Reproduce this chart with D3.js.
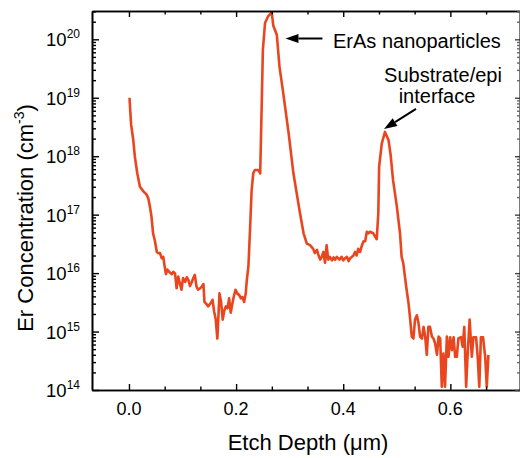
<!DOCTYPE html>
<html><head><meta charset="utf-8">
<script src="https://cdn.jsdelivr.net/npm/d3@7"></script>
<style>
body{margin:0;background:#fff}
svg{display:block}
text{font-family:"Liberation Sans",Arial,Helvetica,sans-serif;fill:#000}
</style>
</head><body>
<svg id="chart" width="520" height="458"></svg>
<script>
// ---- data ----
const depth = [0.001,0.004,0.008,0.011,0.0155,0.0205,0.027,0.033,0.036,0.039,0.042,0.045,0.0486,0.052,0.055,0.058,0.061,0.064,0.067,0.069,0.0715,0.075,0.080,0.083,0.086,0.089,0.092,0.095,0.098,0.101,0.105,0.108,0.111,0.114,0.117,0.120,0.123,0.126,0.129,0.133,0.136,0.139,0.141,0.144,0.148,0.153,0.156,0.159,0.162,0.165,0.169,0.172,0.175,0.178,0.181,0.184,0.187,0.190,0.193,0.196,0.199,0.202,0.206,0.209,0.212,0.215,0.218,0.220,0.223,0.226,0.229,0.232,0.235,0.2415,0.245,0.248,0.250,0.254,0.260,0.2665,0.2695,0.276,0.281,0.288,0.298,0.307,0.319,0.326,0.332,0.338,0.344,0.347,0.351,0.354,0.357,0.360,0.363,0.366,0.369,0.372,0.375,0.379,0.382,0.385,0.388,0.393,0.397,0.400,0.4035,0.407,0.410,0.413,0.419,0.422,0.425,0.428,0.4315,0.435,0.438,0.441,0.444,0.447,0.450,0.456,0.4595,0.4625,0.4655,0.467,0.472,0.478,0.4845,0.4885,0.493,0.500,0.506,0.509,0.512,0.5175,0.522,0.525,0.528,0.531,0.534,0.5375,0.5405,0.5435,0.547,0.550,0.553,0.556,0.559,0.562,0.5655,0.5685,0.5715,0.575,0.578,0.581,0.584,0.587,0.590,0.5935,0.5965,0.5997,0.603,0.606,0.609,0.612,0.615,0.620,0.623,0.626,0.6295,0.632,0.636,0.640,0.643,0.648,0.651,0.654,0.657,0.661,0.665,0.668,0.671];
const conc = [1.0e19,3.5e18,1.9e18,9.8e17,5.1e17,3.0e17,2.5e17,2.2e17,1.9e17,1.4e17,9.3e16,4.8e16,3.5e16,2.3e16,2.2e16,2.2e16,1.8e16,1.9e16,1.25e16,9.6e15,1.15e16,1.05e16,9.6e15,1.05e16,9.9e15,5.5e15,8.7e15,6.7e15,5.2e15,8.2e15,7.1e15,8.5e15,7.6e15,6.0e15,6.9e15,8.2e15,9.3e15,5.9e15,5.2e15,5.5e15,5.9e15,6.5e15,3.2e15,3.0e15,2.7e15,3.1e15,3.5e15,2.2e15,1.6e15,7.6e14,4.5e15,3.2e15,1.6e15,2.3e15,2.7e15,2.5e15,3.7e15,2.1e15,3.0e15,4.1e15,5.2e15,4.5e15,4.2e15,3.7e15,3.9e15,3.2e15,4.5e15,7.6e15,1.3e16,5.5e16,2.6e17,5.1e17,5.8e17,5.8e17,5.1e17,9.1e18,6.6e19,1.9e20,2.5e20,2.9e20,1.7e20,1.2e20,3.4e19,1.2e19,2.5e18,5.1e17,1.1e17,4.8e16,3.2e16,3.0e16,2.6e16,2.2e16,2.5e16,2.0e16,1.7e16,1.9e16,2.3e16,1.5e16,3.0e16,1.7e16,1.9e16,1.65e16,1.85e16,1.7e16,1.9e16,1.7e16,1.9e16,1.65e16,1.8e16,1.9e16,1.6e16,1.8e16,2.0e16,2.3e16,2.0e16,2.6e16,2.3e16,3.0e16,3.5e16,3.5e16,5.1e16,4.8e16,5.1e16,4.8e16,4.2e16,3.8e16,1.05e17,6.6e17,1.66e18,2.6e18,1.9e18,1.05e18,3.9e17,1.4e17,4.8e16,1.9e16,1.5e16,5.9e15,3.0e15,1.6e15,8.2e14,7.6e14,1.6e15,1.9e15,1.4e15,8.2e14,7.6e14,1.2e15,8.2e14,4.0e14,1.2e15,1.2e15,8.2e14,7.6e14,6.3e14,4.0e14,8.2e14,7.6e14,1.14e14,4.2e14,1.14e14,8.2e14,3.7e14,8.0e14,4.8e14,8.0e14,3.7e14,3.7e14,7.6e14,8.0e14,5.5e14,1.2e15,1.14e14,3.7e14,1.6e15,3.7e14,8.0e14,8.0e14,3.7e14,1.14e14,8.0e14,8.0e14,3.7e14,1.14e14,4.0e14];

const xTickValues = [0.0, 0.2, 0.4, 0.6];
const xTickLabels = ["0.0", "0.2", "0.4", "0.6"];
const xMinorTicks = [0.0667, 0.1333, 0.2667, 0.3333, 0.4667, 0.5333, 0.6667];
const yExponents = [14, 15, 16, 17, 18, 19, 20];
const xTitle = "Etch Depth (\u03bcm)";
const yTitleMain = "Er Concentration (cm";
const yTitleSup = "-3";
const annotationLabels = [["ErAs nanoparticles"], ["Substrate/epi", "interface"]];
const annotationPoints = [[0.266, 2.9e20], [0.478, 2.6e18]];

// ---- layout ----
const L = 92, R = 520, T = 11, B = 390;
const lineColor = "#e9461f";

const svg = d3.select("#chart");
const x = d3.scaleLinear().domain([-0.069, 0.730]).range([L, R]);
const y = d3.scaleLog().domain([1e14, 3.05e20]).range([B, T]);

const yMinor = [];
yExponents.forEach(e => { for (let m = 2; m <= 9; m++) { const v = m * Math.pow(10, e); if (v <= y.domain()[1]) yMinor.push(v); } });
const yMajor = yExponents.map(e => Math.pow(10, e));

svg.append("clipPath").attr("id", "clip").append("rect")
  .attr("x", L).attr("y", T).attr("width", R - L).attr("height", B - T);

const pts = depth.map((d, i) => [d, conc[i]]);
svg.append("path")
  .datum(pts)
  .attr("clip-path", "url(#clip)")
  .attr("fill", "none")
  .attr("stroke", lineColor)
  .attr("stroke-width", 2.6)
  .attr("stroke-linejoin", "round")
  .attr("d", d3.line().x(d => x(d[0])).y(d => y(d[1])));

function styleAxis(g) {
  g.select(".domain").attr("stroke", "#000").attr("stroke-width", 1.6);
  g.selectAll(".tick line").attr("stroke", "#000").attr("stroke-width", 1.4);
  g.selectAll("text").remove();
}
svg.append("g").attr("transform", `translate(0,${B})`)
  .call(d3.axisBottom(x).tickValues(xTickValues).tickSizeInner(-6).tickSizeOuter(0)).call(styleAxis);
svg.append("g").attr("transform", `translate(0,${B})`)
  .call(d3.axisBottom(x).tickValues(xMinorTicks).tickSizeInner(-3.5).tickSizeOuter(0)).call(styleAxis);
svg.append("g").attr("transform", `translate(0,${T})`)
  .call(d3.axisTop(x).tickValues(xTickValues).tickSizeInner(-6).tickSizeOuter(0)).call(styleAxis);
svg.append("g").attr("transform", `translate(0,${T})`)
  .call(d3.axisTop(x).tickValues(xMinorTicks).tickSizeInner(-3.5).tickSizeOuter(0)).call(styleAxis);
svg.append("g").attr("transform", `translate(${L},0)`)
  .call(d3.axisLeft(y).tickValues(yMajor).tickSizeInner(-7).tickSizeOuter(0)).call(styleAxis);
svg.append("g").attr("transform", `translate(${L},0)`)
  .call(d3.axisLeft(y).tickValues(yMinor).tickSizeInner(-4).tickSizeOuter(0)).call(styleAxis);
svg.append("g").attr("transform", `translate(${R},0)`)
  .call(d3.axisRight(y).tickValues(yMajor).tickSizeInner(-5).tickSizeOuter(0)).call(styleAxis)
  .selectAll("line").attr("stroke", "#444");
svg.append("g").attr("transform", `translate(${R},0)`)
  .call(d3.axisRight(y).tickValues(yMinor).tickSizeInner(-3).tickSizeOuter(0)).call(styleAxis)
  .selectAll("line").attr("stroke", "#666");

svg.append("g").selectAll("text").data(xTickValues).join("text")
  .attr("x", d => x(d)).attr("y", B + 25)
  .attr("text-anchor", "middle").attr("font-size", 18)
  .text((d, i) => xTickLabels[i]);

const yl = svg.append("g").selectAll("text").data(yExponents).join("text")
  .attr("x", 80).attr("y", d => y(Math.pow(10, d)) + 7)
  .attr("text-anchor", "end").attr("font-size", 18.5);
yl.append("tspan").text("10");
yl.append("tspan").attr("font-size", 12).attr("dy", -8).text(d => d);

svg.append("text").attr("x", 308).attr("y", 450).attr("text-anchor", "middle")
  .attr("font-size", 22).text(xTitle);
const yt = svg.append("text").attr("transform", "translate(33,218) rotate(-90)")
  .attr("text-anchor", "middle").attr("font-size", 22);
yt.append("tspan").text(yTitleMain);
yt.append("tspan").attr("font-size", 14).attr("dy", -9).text(yTitleSup);
yt.append("tspan").attr("dy", 9).text(")");

const ann = svg.append("g");
function arrow(x1, y1, x2, y2) {
  const ang = Math.atan2(y2 - y1, x2 - x1);
  const hl = 13, hw = 4.5;
  const bx = x2 - hl * Math.cos(ang), by = y2 - hl * Math.sin(ang);
  ann.append("line").attr("x1", x1).attr("y1", y1).attr("x2", bx).attr("y2", by)
    .attr("stroke", "#000").attr("stroke-width", 2);
  const px = -Math.sin(ang) * hw, py = Math.cos(ang) * hw;
  ann.append("path").attr("d", `M${x2},${y2}L${bx + px},${by + py}L${bx - px},${by - py}Z`).attr("fill", "#000");
}
const p1 = [x(annotationPoints[0][0]), y(annotationPoints[0][1])];
arrow(p1[0] + 51, 38.5, p1[0] + 14, 38.5);
ann.append("text").attr("x", 333).attr("y", 48).attr("font-size", 20).text(annotationLabels[0][0]);
const p2 = [x(annotationPoints[1][0]), y(annotationPoints[1][1])];
arrow(p2[0] + 31, p2[1] - 23, p2[0] - 1, p2[1] - 3);
ann.append("text").attr("x", 443).attr("y", 82).attr("text-anchor", "middle").attr("font-size", 20).text(annotationLabels[1][0]);
ann.append("text").attr("x", 437).attr("y", 103).attr("text-anchor", "middle").attr("font-size", 20).text(annotationLabels[1][1]);
</script>
</body></html>
